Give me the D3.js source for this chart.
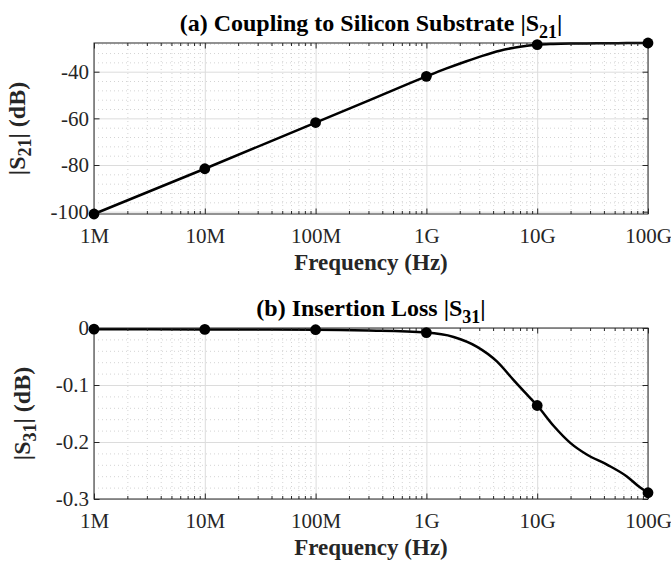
<!DOCTYPE html>
<html><head><meta charset="utf-8">
<script src="https://cdn.jsdelivr.net/npm/d3@7"></script>
<style>
body{margin:0;background:#fff}
svg{display:block}
text{font-family:"Liberation Serif","Times New Roman",serif}
</style>
</head><body>
<svg id="c" width="671" height="565"></svg>
<script>
// ---- data ----
const xTickValues = [1e6, 1e7, 1e8, 1e9, 1e10, 1e11];
const xTickLabels = ["1M", "10M", "100M", "1G", "10G", "100G"];
const markerFreq = [1e6, 1e7, 1e8, 1e9, 1e10, 1e11];
const s21Markers = [-101.0, -81.6, -61.8, -42.0, -28.4, -27.7];
const s31Markers = [-0.002, -0.0025, -0.003, -0.008, -0.136, -0.289];
const s21CurveFreq = [1e6, 1e7, 1e8, 3e8, 1e9, 1.5e9, 2.3e9, 3.2e9, 4.6e9, 7e9, 1e10, 1.4e10, 2e10, 2.8e10, 4.3e10, 6.4e10, 8.5e10, 1e11];
const s21Curve = [-101.0, -81.6, -61.8, -52.4, -42.0, -38.7, -35.5, -33.2, -31.0, -29.3, -28.4, -28.1, -27.95, -27.9, -27.8, -27.75, -27.7, -27.7];
const s31CurveFreq = [1e6, 1e7, 1e8, 3e8, 1e9, 1.76e9, 2.87e9, 4.35e9, 6.1e9, 8.1e9, 1e10, 1.41e10, 2e10, 2.8e10, 4.3e10, 6.4e10, 8.5e10, 1e11];
const s31Curve = [-0.002, -0.0025, -0.003, -0.0045, -0.008, -0.0157, -0.033, -0.059, -0.091, -0.117, -0.136, -0.172, -0.202, -0.222, -0.240, -0.260, -0.280, -0.289];
const s21Ticks = [-100, -80, -60, -40];
const s31Ticks = [-0.3, -0.2, -0.1, 0];
const s21TickLabels = ["-100", "-80", "-60", "-40"];
const s31TickLabels = ["-0.3", "-0.2", "-0.1", "0"];

const svg = d3.select("#c");
const AX = "#262626";

const minorX = [];
for (let e = 6; e < 11; e++) for (let k = 2; k <= 9; k++) minorX.push(k * Math.pow(10, e));

function panel(o) {
  const L = 94, R = 648, T = o.top, B = o.top + 171;
  const x = d3.scaleLog().domain([1e6, 1e11]).range([L, R]);
  const y = d3.scaleLinear().domain(o.domain).range([B, T]);
  const g = svg.append("g");
  const H = B - T, W = R - L;

  // minor y grid values
  const minorY = [];
  const step = o.ticks[1] - o.ticks[0];
  for (let v = o.ticks[0] - step; v <= o.ticks[o.ticks.length - 1] + step; v += step) {
    for (let j = 1; j < 5; j++) {
      const mv = v + j * step / 5;
      if (mv > o.domain[0] && mv < o.domain[1]) minorY.push(mv);
    }
  }

  const minorStyle = s => { s.select(".domain").remove(); s.selectAll("line").attr("stroke", "#d4d4d4").attr("stroke-dasharray", "1,3"); };
  // minor grid
  g.append("g").attr("transform", `translate(0,${B})`)
    .call(d3.axisBottom(x).tickValues(minorX).tickSize(-H).tickFormat("")).call(minorStyle);
  g.append("g").attr("transform", `translate(${L},0)`)
    .call(d3.axisLeft(y).tickValues(minorY).tickSize(-W).tickFormat("")).call(minorStyle);
  // major grid
  const majorStyle = s => { s.select(".domain").remove(); s.selectAll("line").attr("stroke", "#dcdcdc"); };
  g.append("g").attr("transform", `translate(0,${B})`)
    .call(d3.axisBottom(x).tickValues(xTickValues).tickSize(-H).tickFormat("")).call(majorStyle);
  g.append("g").attr("transform", `translate(${L},0)`)
    .call(d3.axisLeft(y).tickValues(o.ticks).tickSize(-W).tickFormat("")).call(majorStyle);

  // line
  const line = d3.line().x(d => x(d[0])).y(d => y(d[1])).curve(d3.curveMonotoneX);
  g.append("path").datum(o.curveF.map((f, i) => [f, o.curve[i]]))
    .attr("d", line).attr("fill", "none").attr("stroke", "#000").attr("stroke-width", 2.5);

  // frame
  g.append("rect").attr("x", L).attr("y", T).attr("width", W).attr("height", H)
    .attr("fill", "none").attr("stroke", AX).attr("stroke-width", 1);

  // ticks
  const styleTicks = s => { s.select(".domain").remove(); s.selectAll("line").attr("stroke", AX); };
  g.append("g").attr("transform", `translate(0,${B})`)
    .call(d3.axisBottom(x).tickValues(xTickValues).tickSizeInner(-5.5).tickSizeOuter(0).tickPadding(14)
      .tickFormat((d, i) => xTickLabels[i]))
    .call(styleTicks)
    .call(s => s.selectAll("text").attr("font-size", 21).attr("fill", AX).attr("font-family", "Liberation Serif"));
  g.append("g").attr("transform", `translate(0,${T})`)
    .call(d3.axisTop(x).tickValues(xTickValues).tickSize(-5.5).tickFormat("")).call(styleTicks);
  g.append("g").attr("transform", `translate(0,${B})`)
    .call(d3.axisBottom(x).tickValues(minorX).tickSize(-3).tickFormat("")).call(styleTicks);
  g.append("g").attr("transform", `translate(0,${T})`)
    .call(d3.axisTop(x).tickValues(minorX).tickSize(-3).tickFormat("")).call(styleTicks);
  g.append("g").attr("transform", `translate(${L},0)`)
    .call(d3.axisLeft(y).tickValues(o.ticks).tickSizeInner(-5.5).tickSizeOuter(0).tickPadding(5)
      .tickFormat((d, i) => o.tickLabels[i]))
    .call(styleTicks)
    .call(s => s.selectAll("text").attr("font-size", 21).attr("fill", AX).attr("font-family", "Liberation Serif"));
  g.append("g").attr("transform", `translate(${R},0)`)
    .call(d3.axisRight(y).tickValues(o.ticks).tickSize(-5.5).tickFormat("")).call(styleTicks);

  // markers
  g.append("g").selectAll("circle").data(markerFreq.map((f, i) => [f, o.markers[i]])).join("circle")
    .attr("cx", d => x(d[0])).attr("cy", d => y(d[1])).attr("r", 5.4).attr("fill", "#000");

  // title
  const t = g.append("text").attr("x", (L + R) / 2).attr("y", T - 12).attr("text-anchor", "middle")
    .attr("font-size", 24).attr("font-weight", "bold").attr("fill", "#000");
  t.append("tspan").text(o.title + " |S");
  t.append("tspan").attr("font-size", 18).attr("dy", 7).text(o.sub);
  t.append("tspan").attr("dy", -7).text("|");

  // x label
  g.append("text").attr("x", (L + R) / 2).attr("y", B + 56).attr("text-anchor", "middle")
    .attr("font-size", 23).attr("font-weight", "bold").attr("fill", AX).text("Frequency (Hz)");

  // y label
  const yl = g.append("text").attr("transform", `translate(${o.ylx},${(T + B) / 2}) rotate(-90)`)
    .attr("text-anchor", "middle").attr("font-size", 24).attr("font-weight", "bold").attr("fill", AX);
  yl.append("tspan").text("|S");
  yl.append("tspan").attr("font-size", 18).attr("dy", 6).text(o.sub);
  yl.append("tspan").attr("dy", -6).text("| (dB)");
}

panel({ top: 43, domain: [-101.0, -27.7], ticks: s21Ticks, tickLabels: s21TickLabels,
  curveF: s21CurveFreq, curve: s21Curve, markers: s21Markers,
  title: "(a) Coupling to Silicon Substrate", sub: "21", ylx: 25 });
panel({ top: 328, domain: [-0.3, 0], ticks: s31Ticks, tickLabels: s31TickLabels,
  curveF: s31CurveFreq, curve: s31Curve, markers: s31Markers,
  title: "(b) Insertion Loss", sub: "31", ylx: 30 });
</script>
</body></html>
